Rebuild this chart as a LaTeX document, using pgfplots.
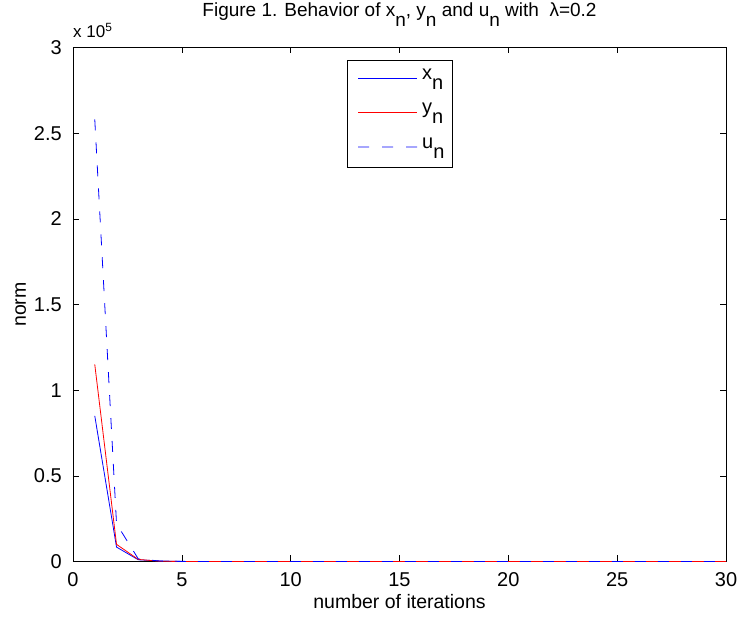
\documentclass[border=0pt]{standalone}
\usepackage{fontspec}
\setmainfont{Liberation Sans}
\usepackage{pgfplots}
\pgfplotsset{compat=1.18}

\definecolor{lgblueB}{rgb}{0.01,0.01,0.99}

\newcommand{\sub}[1]{\lower0.5em\hbox{#1}}

\begin{document}
\begin{tikzpicture}
\begin{axis}[
    width=653pt, height=514pt, scale only axis,
    xmin=0, xmax=30, ymin=0, ymax=300000,
    xtick={0,5,...,30},
    ytick={0,50000,100000,150000,200000,250000,300000},
    yticklabels={0,0.5,1,1.5,2,2.5,3},
    scaled y ticks=false,
    tick align=inside,
    major tick length=6pt,
    axis line style={black, line width=0.8pt},
    every tick/.style={black, line width=0.6pt},
    tick label style={font=\fontsize{20}{22}\selectfont},
    xticklabel style={anchor=base, yshift=-25.5pt},
    yticklabel style={anchor=east, inner sep=0pt, xshift=-11pt},
    /pgf/number format/assume math mode=true,
    label style={font=\fontsize{19.5}{22}\selectfont},
    xlabel={number of iterations},
    ylabel={norm},
    xlabel style={at={(axis description cs:0.5,0)}, anchor=base, yshift=-47.5pt},
    ylabel style={at={(axis description cs:0,0.5)}, anchor=base, yshift=47pt},
    title={Figure 1. Behavior of x\sub{n}, y\sub{n} and u\sub{n} with\ \ λ=0.2},
    title style={font=\fontsize{19}{21}\selectfont, at={(axis description cs:0.5,1)}, anchor=base, yshift=24.5pt},
]
\addplot[color=blue, line width=0.8pt] coordinates {
(1,85000)(2,8400)(3,1000)(4,300)(5,60)(6,15)(7,5)(8,2)(9,1)(10,0)
(11,0)(12,0)(13,0)(14,0)(15,0)(16,0)(17,0)(18,0)(19,0)(20,0)
(21,0)(22,0)(23,0)(24,0)(25,0)(26,0)(27,0)(28,0)(29,0)(30,0)
};
\addplot[color=red, line width=0.8pt] coordinates {
(1,115000)(2,10000)(3,1200)(4,150)(5,25)(6,6)(7,2)(8,1)(9,0)(10,0)
(11,0)(12,0)(13,0)(14,0)(15,0)(16,0)(17,0)(18,0)(19,0)(20,0)
(21,0)(22,0)(23,0)(24,0)(25,0)(26,0)(27,0)(28,0)(29,0)(30,0)
};
\addplot[color=blue, line width=0.8pt, dash pattern=on 11pt off 12pt] coordinates {
(1,258000)(2,22000)(3,1500)(4,250)(5,40)(6,10)(7,3)(8,1)(9,0)(10,0)
(11,0)(12,0)(13,0)(14,0)(15,0)(16,0)(17,0)(18,0)(19,0)(20,0)
(21,0)(22,0)(23,0)(24,0)(25,0)(26,0)(27,0)(28,0)(29,0)(30,0)
};
\end{axis}
% scale factor above the y axis
\node[anchor=base west, font=\fontsize{17}{19}\selectfont, inner sep=0pt]
    at ([xshift=0pt, yshift=10pt]current axis.north west) {x 10\textsuperscript{5}};
% legend box
\begin{scope}[shift={(current axis.north west)}, x=1pt, y=-1pt]
  \draw[black, line width=0.6pt, fill=white] (274,12.5) rectangle (379,119.5);
  \fill[fill=lgblueB] (285,99.1) rectangle (296,99.9)
                      (309,99.1) rectangle (320,99.9)
                      (333,99.1) rectangle (344,99.9);
  \draw[draw=blue, line width=0.8pt] (285,30.5) -- (344,30.5);
  \draw[draw=red, line width=0.8pt] (285,64.5) -- (344,64.5);
  \begin{scope}[every node/.style={anchor=base west, inner sep=0pt, font=\fontsize{20}{22}\selectfont}]
    \node at (349,32.5) {x\sub{n}};
    \node at (349,66.5) {y\sub{n}};
    \node at (349,101.5) {u\sub{n}};
  \end{scope}
\end{scope}
\pgfresetboundingbox
\path[use as bounding box] ([xshift=-73pt, yshift=-58.5pt]current axis.south west)
    rectangle ([xshift=14pt, yshift=47.5pt]current axis.north east);
\end{tikzpicture}
\end{document}
